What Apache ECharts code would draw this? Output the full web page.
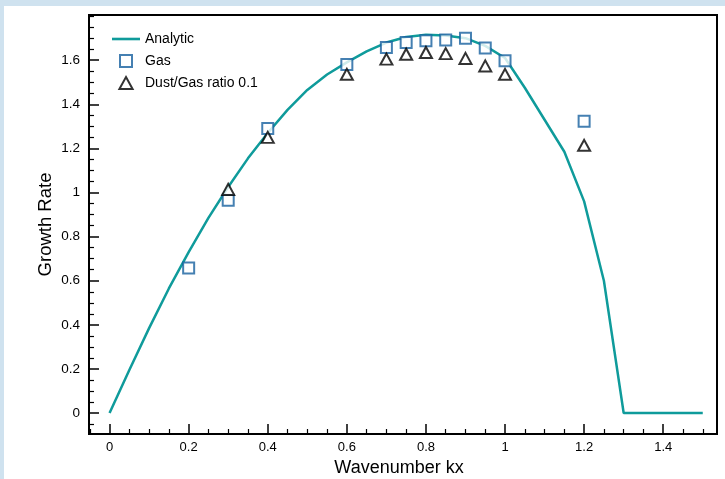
<!DOCTYPE html>
<html><head><meta charset="utf-8">
<script src="https://cdn.jsdelivr.net/npm/echarts@6/dist/echarts.min.js"></script>
<style>
html,body{margin:0;padding:0;background:#cfe2ef;width:725px;height:479px;overflow:hidden}
#panel{position:absolute;left:4px;top:6px;width:721px;height:473px;background:#fff}
#chart{position:absolute;left:0;top:0;width:725px;height:479px}
</style></head><body><div id="panel"></div><div id="chart"></div>
<script>
// Analytic curve
const analyticK    = [0, 0.05, 0.1, 0.15, 0.2, 0.25, 0.3, 0.35, 0.4, 0.45, 0.5, 0.55, 0.6, 0.65, 0.7, 0.75, 0.8, 0.85, 0.9, 0.95, 1.0, 1.05, 1.1, 1.15, 1.2, 1.25, 1.3, 1.35, 1.4, 1.45, 1.5];
const analyticRate = [0, 0.195, 0.385, 0.565, 0.73, 0.885, 1.025, 1.155, 1.27, 1.375, 1.465, 1.535, 1.59, 1.64, 1.68, 1.705, 1.715, 1.712, 1.70, 1.665, 1.61, 1.475, 1.33, 1.185, 0.96, 0.6, 0, 0, 0, 0, 0];
// Gas simulation
const gasK    = [0.2, 0.3, 0.4, 0.6, 0.7, 0.75, 0.8, 0.85, 0.9, 0.95, 1.0, 1.2];
const gasRate = [0.658, 0.965, 1.29, 1.58, 1.658, 1.68, 1.688, 1.692, 1.70, 1.655, 1.597, 1.323];
// Dust/Gas ratio 0.1
const dustK    = [0.3, 0.4, 0.6, 0.7, 0.75, 0.8, 0.85, 0.9, 0.95, 1.0, 1.2];
const dustRate = [1.014, 1.25, 1.536, 1.605, 1.627, 1.635, 1.63, 1.608, 1.574, 1.536, 1.214];
// Ticks
const xTicks = [0, 0.2, 0.4, 0.6, 0.8, 1, 1.2, 1.4];
const xMinor = [-0.05, 0.05, 0.1, 0.15, 0.25, 0.3, 0.35, 0.45, 0.5, 0.55, 0.65, 0.7, 0.75, 0.85, 0.9, 0.95, 1.05, 1.1, 1.15, 1.25, 1.3, 1.35, 1.45, 1.5];
const yTicks = [0, 0.2, 0.4, 0.6, 0.8, 1, 1.2, 1.4, 1.6];
const yMinor = [-0.05, 0.05, 0.1, 0.15, 0.25, 0.3, 0.35, 0.45, 0.5, 0.55, 0.65, 0.7, 0.75, 0.85, 0.9, 0.95, 1.05, 1.1, 1.15, 1.25, 1.3, 1.35, 1.45, 1.5, 1.55, 1.65, 1.7, 1.75, 1.8];

const FONT = '"Liberation Sans", Arial, Helvetica, sans-serif';
const X_MIN = -0.052, X_MAX = 1.536, Y_MIN = -0.095, Y_MAX = 1.805;
const TEAL = '#0f9b9b', BLUE = '#17609f';

const chart = echarts.init(document.getElementById('chart'), null, {renderer: 'canvas'});
const majorX = {
  type: 'value', min: X_MIN, max: X_MAX, position: 'bottom',
  axisLine: {show: true, onZero: false, lineStyle: {color: '#000', width: 2}},
  axisTick: {show: true, inside: true, length: 10, customValues: xTicks, lineStyle: {color: '#000', width: 1.5}},
  axisLabel: {show: true, customValues: xTicks, margin: 7, fontSize: 13, color: '#000', fontFamily: FONT},
  splitLine: {show: false},
  name: 'Wavenumber kx', nameLocation: 'middle', nameGap: 25, nameMoveOverlap: false,
  nameTextStyle: {fontSize: 18, color: '#000', fontFamily: FONT, padding: [0, 8, 0, 0]}
};
const minorX = {
  type: 'value', min: X_MIN, max: X_MAX, position: 'bottom',
  axisLine: {show: false, onZero: false},
  axisTick: {show: true, inside: true, length: 5, customValues: xMinor, lineStyle: {color: '#000', width: 1.2}},
  axisLabel: {show: false}, splitLine: {show: false}
};
const majorY = {
  type: 'value', min: Y_MIN, max: Y_MAX, position: 'left',
  axisLine: {show: true, onZero: false, lineStyle: {color: '#000', width: 2}},
  axisTick: {show: true, inside: true, length: 10, customValues: yTicks, lineStyle: {color: '#000', width: 1.5}},
  axisLabel: {show: true, customValues: yTicks, margin: 9, fontSize: 13.5, color: '#000', fontFamily: FONT},
  splitLine: {show: false},
  name: 'Growth Rate', nameLocation: 'middle', nameGap: 34, nameRotate: 90, nameMoveOverlap: false,
  nameTextStyle: {fontSize: 18.5, color: '#000', fontFamily: FONT}
};
const minorY = {
  type: 'value', min: Y_MIN, max: Y_MAX, position: 'left',
  axisLine: {show: false, onZero: false},
  axisTick: {show: true, inside: true, length: 5, customValues: yMinor, lineStyle: {color: '#000', width: 1.2}},
  axisLabel: {show: false}, splitLine: {show: false}
};

const zip = (a, b) => a.map((v, i) => [v, b[i]]);

chart.setOption({
  animation: false,
  backgroundColor: 'transparent',
  grid: {left: 89, top: 15, right: 8, bottom: 45, show: true, borderColor: '#000', borderWidth: 2,
         containLabel: false, outerBoundsMode: 'none'},
  xAxis: [majorX, minorX],
  yAxis: [majorY, minorY],
  legend: {
    orient: 'vertical', left: 112, top: 32, padding: 0, itemWidth: 28, itemHeight: 12, itemGap: 8,
    textStyle: {fontSize: 14, color: '#000', fontFamily: FONT},
    data: [
      {name: 'Analytic', icon: 'path://M0,0 H28 V2.6 H0 Z'},
      {name: 'Gas', icon: 'path://M0,0 H10 V10 H0 Z'},
      {name: 'Dust/Gas ratio 0.1', icon: 'path://M5.5,0 L11,10 L0,10 Z'}
    ]
  },
  series: [
    {name: 'Analytic', type: 'line', data: zip(analyticK, analyticRate), symbol: 'none',
     lineStyle: {color: TEAL, width: 2.5}, itemStyle: {color: TEAL}, z: 2},
    {name: 'Gas', type: 'scatter', data: zip(gasK, gasRate), symbol: 'rect', symbolSize: 11,
     itemStyle: {color: '#fff', borderColor: BLUE, borderWidth: 2}, z: 3},
    {name: 'Dust/Gas ratio 0.1', type: 'scatter', data: zip(dustK, dustRate), symbol: 'triangle', symbolSize: [12, 11],
     itemStyle: {color: '#fff', borderColor: '#000', borderWidth: 2}, z: 4}
  ]
});
</script></body></html>
